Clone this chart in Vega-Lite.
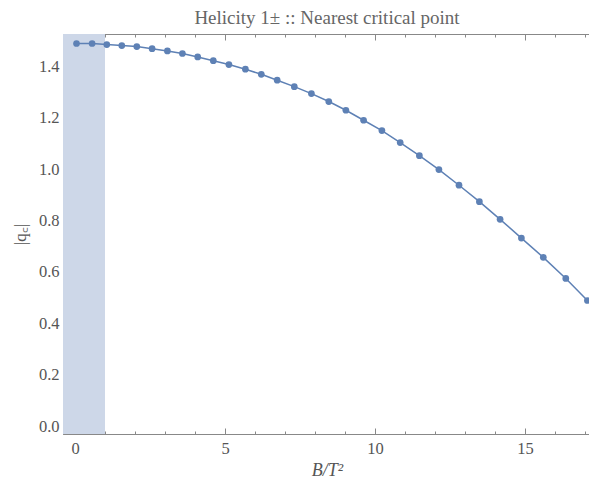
{
  "$schema": "https://vega.github.io/schema/vega-lite/v6.json",
  "autosize": "none",
  "width": 528,
  "height": 400,
  "padding": {"left": 63, "top": 34, "right": 0, "bottom": 47},
  "background": "white",
  "title": {
    "text": "Helicity 1± :: Nearest critical point",
    "font": "Liberation Serif",
    "fontSize": 19,
    "fontWeight": "normal",
    "color": "#666666",
    "offset": 6,
    "anchor": "middle"
  },
  "config": {
    "view": {"stroke": "#888888", "strokeWidth": 1},
    "axis": {
      "grid": false,
      "domainColor": "#888888",
      "tickColor": "#888888",
      "labelColor": "#555555",
      "titleColor": "#555555",
      "labelFont": "Liberation Serif",
      "titleFont": "Liberation Serif",
      "labelFontSize": 16.5,
      "titleFontSize": 18,
      "titleFontWeight": "normal"
    }
  },
  "datasets": {
    "band": [{"x0": -0.4, "x1": 1.0}],
    "curve": [
      {"b": 0.05, "q": 1.490},
      {"b": 0.57, "q": 1.490},
      {"b": 1.06, "q": 1.486},
      {"b": 1.56, "q": 1.482},
      {"b": 2.06, "q": 1.478},
      {"b": 2.57, "q": 1.470},
      {"b": 3.08, "q": 1.461},
      {"b": 3.58, "q": 1.451},
      {"b": 4.09, "q": 1.4375},
      {"b": 4.61, "q": 1.423},
      {"b": 5.13, "q": 1.408},
      {"b": 5.68, "q": 1.390},
      {"b": 6.21, "q": 1.370},
      {"b": 6.74, "q": 1.347},
      {"b": 7.31, "q": 1.322},
      {"b": 7.88, "q": 1.295},
      {"b": 8.46, "q": 1.264},
      {"b": 9.03, "q": 1.230},
      {"b": 9.62, "q": 1.191},
      {"b": 10.23, "q": 1.151},
      {"b": 10.84, "q": 1.104},
      {"b": 11.48, "q": 1.053},
      {"b": 12.13, "q": 0.999},
      {"b": 12.80, "q": 0.938},
      {"b": 13.48, "q": 0.874},
      {"b": 14.17, "q": 0.805},
      {"b": 14.88, "q": 0.732},
      {"b": 15.61, "q": 0.657},
      {"b": 16.36, "q": 0.575},
      {"b": 17.08, "q": 0.489}
    ]
  },
  "resolve": {"axis": {"x": "independent", "y": "independent"}},
  "layer": [
    {
      "data": {"name": "band"},
      "mark": {"type": "rect", "color": "#CDD7E8", "opacity": 1},
      "encoding": {
        "x": {
          "field": "x0", "type": "quantitative",
          "scale": {"domain": [-0.4, 17.2], "nice": false, "zero": false},
          "axis": {
            "orient": "bottom",
            "title": "B/T²",
            "titleFontStyle": "italic",
            "titlePadding": 5,
            "values": [0,1,2,3,4,5,6,7,8,9,10,11,12,13,14,15,16,17],
            "labelExpr": "datum.value % 5 === 0 ? format(datum.value, 'd') : ''",
            "tickSize": {"condition": {"test": "datum.value % 5 === 0", "value": -6}, "value": -3},
            "labelPadding": 12
          }
        },
        "x2": {"field": "x1"}
      }
    },
    {
      "data": {"name": "curve"},
      "mark": {"type": "line", "color": "#5E81B5", "strokeWidth": 1.5, "clip": true},
      "encoding": {
        "x": {
          "field": "b", "type": "quantitative",
          "scale": {"domain": [-0.4, 17.2], "nice": false, "zero": false},
          "axis": {
            "orient": "top",
            "title": null,
            "labels": false,
            "values": [0,1,2,3,4,5,6,7,8,9,10,11,12,13,14,15,16,17],
            "tickSize": {"condition": {"test": "datum.value % 5 === 0", "value": -6}, "value": -3}
          }
        },
        "y": {
          "field": "q", "type": "quantitative",
          "scale": {"domain": [-0.031, 1.527], "nice": false, "zero": false},
          "axis": {
            "orient": "left",
            "title": "|q꜀|",
            "titleFontSize": 17,
            "titlePadding": 9,
            "values": [0,0.05,0.1,0.15,0.2,0.25,0.3,0.35,0.4,0.45,0.5,0.55,0.6,0.65,0.7,0.75,0.8,0.85,0.9,0.95,1.0,1.05,1.1,1.15,1.2,1.25,1.3,1.35,1.4,1.45,1.5],
            "labelExpr": "abs(datum.value*5 - round(datum.value*5)) < 1e-6 ? format(datum.value, '.1f') : ''",
            "tickSize": {"condition": {"test": "abs(datum.value*5 - round(datum.value*5)) < 1e-6", "value": -6}, "value": -3},
            "labelPadding": 10
          }
        }
      }
    },
    {
      "data": {"name": "curve"},
      "mark": {"type": "point", "filled": true, "color": "#5E81B5", "opacity": 1, "size": 45, "clip": true},
      "encoding": {
        "x": {"field": "b", "type": "quantitative", "scale": {"domain": [-0.4, 17.2], "nice": false, "zero": false}, "axis": null},
        "y": {"field": "q", "type": "quantitative", "scale": {"domain": [-0.031, 1.527], "nice": false, "zero": false}, "axis": null}
      }
    }
  ]
}
